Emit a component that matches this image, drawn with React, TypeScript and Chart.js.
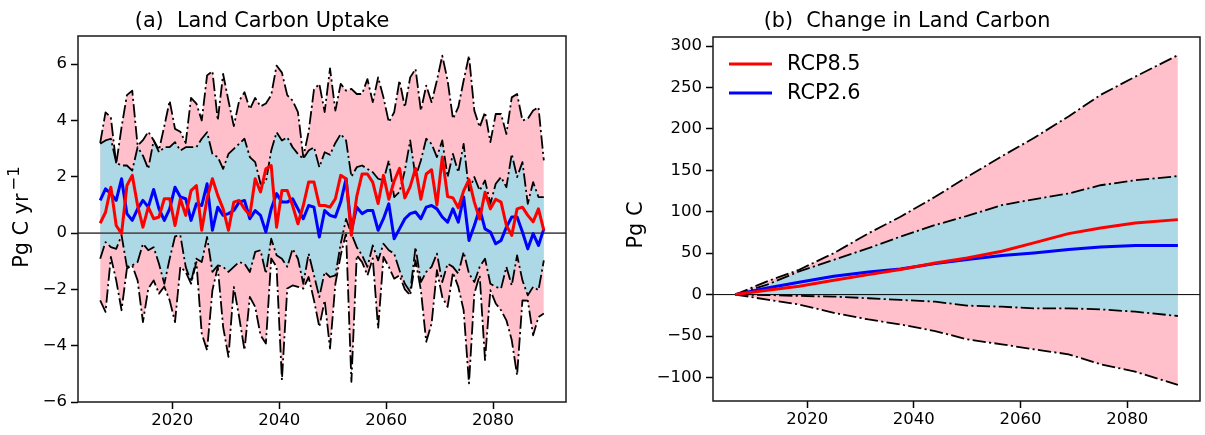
import React, { useEffect, useRef } from "react";
import { Chart, registerables } from "chart.js";

Chart.register(...registerables);

const FONT = "'DejaVu Sans', 'Liberation Sans', sans-serif";

// ---------- categories ----------
const years: number[] = Array.from({ length: 84 }, (_, i) => 2006 + i);
const xTickValues = [2020, 2040, 2060, 2080];
const leftYTicks = [-6, -4, -2, 0, 2, 4, 6];
const rightYTicks = [-100, -50, 0, 50, 100, 150, 200, 250, 300];

// ---------- (a) annual land carbon uptake, Pg C / yr ----------
const rcp85Mean = [
  0.35, 0.74, 1.63, 0.27, -0.02, 1.69, 2.05, 0.98, 0.21, 0.92,
  0.51, 0.57, 1.22, 1.22, 0.27, 1.22, 0.63, 1.51, 1.69, 0.1,
  1.22, 1.93, 1.34, 0.86, 0.1, 1.1, 1.16, 0.86, 0.63, 1.93,
  1.46, 2.28, 2.4, 0.21, 1.51, 1.51, 0.98, 0.33, 0.98, 1.81,
  1.81, 0.98, 0.98, 0.92, 1.22, 2.05, 1.93, -0.08, 1.3, 2.1,
  2.1, 1.8, 1.05, 2.05, 1.2, 1.85, 2.3, 1.25, 1.65, 2.3,
  1.2, 2.1, 2.25, 1.0, 2.7, 1.3, 1.25, 0.9, 1.5, 1.9,
  1.1, 0.5, 1.45, 0.86, 1.2, 1.1, 0.27, -0.08, 0.86, 0.92,
  0.63, 0.4, 0.86, 0.1,
];
const rcp26Mean = [
  1.16, 1.57, 1.4, 1.16, 1.93, 0.69, 0.45, 0.86, 1.16, 0.92,
  1.55, 0.86, 0.45, 0.86, 1.63, 1.28, 1.22, 0.45, 1.04, 0.98,
  1.75, 0.1, 0.92, 0.63, 0.69, 0.8, 1.1, 1.16, 0.51, 0.8,
  0.63, 0.04, 0.86, 1.4, 1.1, 1.1, 1.22, 0.86, 0.51, 0.98,
  0.92, -0.14, 0.8, 0.63, 0.57, 1.1, 1.93, 0.1, 0.92, 0.69,
  0.8, 0.8, 0.1, 0.51, 1.04, -0.2, 0.15, 0.51, 0.69, 0.75,
  0.51, 0.92, 0.98, 0.86, 0.57, 0.39, 0.86, 0.39, 1.28, -0.26,
  0.27, 0.86, 0.15, 0.04, -0.38, -0.26, 0.21, 0.57, 0.57, 0.04,
  -0.56, -0.02, -0.44, 0.15,
];
const rcp85Upper = [
  3.2, 4.29, 4.11, 2.45, 3.76, 4.9, 5.06, 3.1, 3.3, 3.6,
  3.3, 2.95, 3.8, 4.7, 3.7, 3.6, 3.2, 4.8, 4.6, 4.0,
  5.6, 5.75, 4.0, 5.65, 4.7, 3.8, 4.7, 5.0, 4.4, 4.8,
  4.5, 4.6, 4.9, 5.95, 5.7, 4.9, 4.7, 4.3, 2.7, 3.6,
  5.1, 5.3, 4.3, 5.85, 4.35, 5.3, 5.06, 5.12, 4.94, 4.94,
  5.47, 4.65, 5.53, 4.82, 3.94, 4.29, 5.42, 4.47, 5.53, 5.83,
  4.35, 5.24, 4.65, 5.42, 6.3, 5.42, 4.06, 4.47, 5.42, 6.3,
  4.35, 3.76, 4.29, 3.23, 4.23, 4.23, 3.52, 4.82, 4.94, 4.0,
  4.06, 4.35, 4.47, 2.58,
];
const rcp26Upper = [
  3.17, 3.29, 3.35, 2.5, 2.4, 2.4, 2.22, 3.05, 2.75, 2.28,
  3.29, 2.87, 3.05, 3.05, 3.23, 2.93, 3.05, 3.05, 3.05, 3.35,
  3.58, 2.81, 2.7, 2.28, 2.81, 2.99, 3.17, 3.35, 2.7, 2.52,
  1.75, 1.81, 2.93, 3.58, 3.29, 3.4, 3.05, 2.81, 2.64, 2.93,
  3.05, 2.34, 2.87, 2.78, 3.2, 3.52, 3.29, 2.0, 2.34, 2.4,
  2.28, 2.16, 1.93, 1.87, 2.58, 1.28, 1.46, 2.22, 3.29, 1.99,
  2.58, 3.35, 3.17, 2.7, 3.29, 1.99, 2.81, 2.16, 3.17, 1.51,
  1.99, 1.51, 1.87, 1.04, 1.75, 1.99, 1.63, 2.81, 1.99, 2.52,
  1.04, 1.81, 1.28, 1.28,
];
const rcp26Lower = [
  -0.91, -0.32, -0.5, -0.56, -0.08, -1.2, -1.15, -1.03, -0.38, -0.61,
  -0.5, -1.09, -1.8, -0.91, -0.12, -0.08, -1.2, -1.74, -0.91, -1.03,
  -0.14, -1.38, -1.15, -1.2, -1.38, -1.2, -1.03, -1.09, -1.38, -0.67,
  -0.61, -1.44, -0.2, -0.79, -0.91, -1.2, -0.56, -0.91, -1.8, -0.73,
  -1.5, -2.27, -1.38, -1.56, -1.5, -0.38, 0.5, -0.02, -0.5, -0.79,
  -1.2, -0.44, -0.97, -0.38, -0.61, -0.73, -1.32, -1.8, -2.09, -0.5,
  -1.74, -1.38, -1.2, -0.73, -1.74, -1.09, -1.2, -1.44, -0.67, -1.44,
  -1.74, -1.2, -0.91, -1.8, -1.91, -1.97, -1.2, -1.86, -0.79, -1.68,
  -2.21, -1.91, -2.03, -0.97,
];
const rcp85Lower = [
  -2.39, -2.8, -0.85, -1.68, -2.74, -1.26, -1.15, -1.68, -3.16, -1.97,
  -1.68, -2.15, -1.9, -2.39, -3.16, -1.2, -1.38, -1.8, -1.03, -3.57,
  -4.16, -2.03, -1.2, -3.33, -4.4, -1.91, -2.98, -4.16, -2.27, -2.62,
  -3.63, -3.92, -0.9, -1.2, -5.22, -1.97, -1.86, -1.91, -1.97, -1.56,
  -2.39, -3.33, -2.39, -4.1, -1.8, -0.79, 0.0, -5.28, -0.79, -1.03,
  -1.5, -0.9, -3.39, -0.85, -1.2, -1.62, -1.5, -2.0, -2.21, -0.97,
  -2.03, -3.86, -3.22, -1.32, -2.27, -2.62, -1.4, -1.91, -2.74, -5.34,
  -2.15, -1.5, -4.51, -2.03, -2.5, -2.74, -3.1, -3.8, -5.05, -2.39,
  -2.4, -3.63, -2.98, -2.86,
];

// ---------- (b) cumulative change in land carbon, Pg C ----------
const cumYears = [2006, 2012, 2018, 2024.5, 2031, 2037, 2043.5, 2049.5, 2056, 2062, 2068.5, 2074.5, 2081, 2089];
const cum85Mean = [0, 5.2, 10, 17.3, 24.1, 30.2, 38.2, 44.3, 52.3, 62.4, 73.6, 80.5, 86.5, 90.5];
const cum26Mean = [0, 8, 14.9, 22.1, 27.4, 31, 37.4, 42.3, 47.1, 50.3, 54.4, 57.6, 59.2, 59.2];
const cum85Upper = [0, 16, 30, 50, 74, 94, 118, 142, 167, 189, 215, 241, 263, 289];
const cum26Upper = [0, 12, 28, 42, 56, 70, 84, 95, 108, 115, 122, 132, 138, 143];
const cum26Lower = [0, -0.5, -1.6, -2.4, -4.4, -6.4, -8.5, -13.3, -14.6, -16.6, -16.6, -17.8, -20.6, -25.8];
const cum85Lower = [0, -6, -12, -22, -30, -36, -44, -54, -60, -66, -72, -84, -93, -109];

// ---------- styling ----------
const HALF_YEAR = 0.5; // annual values plotted mid-year
const X_MIN = 2002.35;
const X_MAX = 2093.65;
const PINK = "#ffc0cb";
const LIGHTBLUE = "#add8e6";
const DASHDOT = [13.3, 3.3, 2.1, 3.3];

function pts(xs: number[], ys: number[]) {
  return ys.map((y, i) => ({ x: xs[i] + HALF_YEAR, y }));
}

function lineDs(data: any[], color: string, width: number, order: number, dash: number[] = []) {
  return {
    data,
    borderColor: color,
    borderWidth: width,
    borderDash: dash,
    backgroundColor: color,
    pointRadius: 0,
    pointHoverRadius: 0,
    fill: false,
    tension: 0,
    order,
    borderCapStyle: "butt",
    borderJoinStyle: "round",
  };
}

function fillDs(data: any[], color: string, target: number | null, order: number) {
  return {
    data,
    borderColor: "rgba(0,0,0,0)",
    borderWidth: 0,
    backgroundColor: color,
    pointRadius: 0,
    pointHoverRadius: 0,
    fill: target === null ? false : { target, above: color, below: color },
    tension: 0,
    order,
  };
}

function buildDatasets(
  xs: number[],
  m85: number[],
  m26: number[],
  u85: number[],
  u26: number[],
  l26: number[],
  l85: number[],
  zeroColor: string,
  zeroWidth: number
) {
  const zero = [
    { x: X_MIN, y: 0 },
    { x: X_MAX, y: 0 },
  ];
  return [
    lineDs(pts(xs, m85), "#ff0000", 3, 0), // 0
    lineDs(pts(xs, m26), "#0000ff", 3, 1), // 1
    lineDs(zero, zeroColor, zeroWidth, 2), // 2
    lineDs(pts(xs, u85), "#000000", 1.8, 3, DASHDOT), // 3
    lineDs(pts(xs, u26), "#000000", 1.8, 4, DASHDOT), // 4
    lineDs(pts(xs, l26), "#000000", 1.8, 5, DASHDOT), // 5
    lineDs(pts(xs, l85), "#000000", 1.8, 6, DASHDOT), // 6
    fillDs(pts(xs, u26), LIGHTBLUE, 8, 7), // 7
    fillDs(pts(xs, l26), LIGHTBLUE, null, 8), // 8
    fillDs(pts(xs, u85), PINK, 10, 9), // 9
    fillDs(pts(xs, l85), PINK, null, 10), // 10
  ];
}

const minusFmt = (v: any) => (Number(v) < 0 ? "\u2212" + Math.abs(Number(v)) : String(v));

function scales(yMin: number, yMax: number, yTicks: number[], yWidth: number, xHeight: number) {
  const tickFont = { family: FONT, size: 16.5 };
  const grid = {
    display: true,
    drawOnChartArea: false,
    drawTicks: true,
    tickLength: 7,
    tickColor: "#000",
    tickWidth: 1.5,
  };
  return {
    x: {
      type: "linear",
      min: X_MIN,
      max: X_MAX,
      afterBuildTicks: (s: any) => {
        s.ticks = xTickValues.map((v) => ({ value: v }));
      },
      afterFit: (s: any) => {
        s.height = xHeight;
      },
      ticks: {
        callback: (v: any) => String(v),
        font: tickFont,
        color: "#000",
        padding: 2,
        maxRotation: 0,
        autoSkip: false,
      },
      grid,
      border: { display: false },
    },
    y: {
      type: "linear",
      min: yMin,
      max: yMax,
      afterBuildTicks: (s: any) => {
        s.ticks = yTicks.map((v) => ({ value: v }));
      },
      afterFit: (s: any) => {
        s.width = yWidth;
      },
      ticks: {
        callback: minusFmt,
        font: tickFont,
        color: "#000",
        padding: 4,
        autoSkip: false,
      },
      grid,
      border: { display: false },
    },
  };
}

type Decor = {
  title: string;
  titleX: number;
  titleY: number;
  ylabel: string;
  ylabelSup?: string;
  ylabelX: number;
  ylabelY: number;
  legend?: { x: number; y: number; label: string; color: string }[];
};

function decorPlugin(d: Decor) {
  return {
    id: "decor",
    afterDraw(chart: any) {
      const { ctx, chartArea: a } = chart;
      ctx.save();
      // frame
      ctx.strokeStyle = "#1a1a1a";
      ctx.lineWidth = 1.5;
      ctx.setLineDash([]);
      ctx.strokeRect(a.left, a.top, a.right - a.left, a.bottom - a.top);
      // title
      ctx.fillStyle = "#000";
      ctx.font = `20.8px ${FONT}`;
      ctx.textAlign = "center";
      ctx.textBaseline = "alphabetic";
      ctx.fillText(d.title, d.titleX, d.titleY);
      // y label (rotated)
      ctx.save();
      ctx.translate(d.ylabelX, d.ylabelY);
      ctx.rotate(-Math.PI / 2);
      ctx.font = `20.8px ${FONT}`;
      const wMain = ctx.measureText(d.ylabel).width;
      let wSup = 0;
      if (d.ylabelSup) {
        ctx.font = `16.5px ${FONT}`;
        wSup = ctx.measureText(d.ylabelSup).width + 3;
      }
      const start = -(wMain + wSup) / 2;
      ctx.textAlign = "left";
      ctx.font = `20.8px ${FONT}`;
      ctx.fillText(d.ylabel, start, 6);
      if (d.ylabelSup) {
        ctx.font = `16.5px ${FONT}`;
        ctx.fillText(d.ylabelSup, start + wMain + 3, -3.5);
      }
      ctx.restore();
      // legend
      if (d.legend) {
        ctx.font = `20.8px ${FONT}`;
        ctx.textAlign = "left";
        ctx.textBaseline = "middle";
        for (const item of d.legend) {
          ctx.strokeStyle = item.color;
          ctx.lineWidth = 3;
          ctx.beginPath();
          ctx.moveTo(item.x, item.y);
          ctx.lineTo(item.x + 43, item.y);
          ctx.stroke();
          ctx.fillStyle = "#000";
          ctx.fillText(item.label, item.x + 58, item.y + 1);
        }
      }
      ctx.restore();
    },
  };
}

function baseOptions(padding: any, sc: any) {
  return {
    responsive: false,
    maintainAspectRatio: false,
    animation: false,
    devicePixelRatio: 1,
    events: [],
    layout: { padding },
    plugins: {
      legend: { display: false },
      tooltip: { enabled: false },
      title: { display: false },
      filler: { propagate: false },
    },
    scales: sc,
  };
}

function leftConfig(): any {
  return {
    type: "line",
    data: {
      datasets: buildDatasets(years, rcp85Mean, rcp26Mean, rcp85Upper, rcp26Upper, rcp26Lower, rcp85Lower, "#555555", 1.8),
    },
    options: baseOptions({ left: 0, top: 36, right: 34, bottom: 0 }, scales(-6, 7, leftYTicks, 78, 33)),
    plugins: [
      decorPlugin({
        title: "(a)  Land Carbon Uptake",
        titleX: 262,
        titleY: 27,
        ylabel: "Pg C yr",
        ylabelSup: "\u22121",
        ylabelX: 22,
        ylabelY: 217,
      }),
    ],
  };
}

function rightConfig(): any {
  return {
    type: "line",
    data: {
      datasets: buildDatasets(cumYears, cum85Mean, cum26Mean, cum85Upper, cum26Upper, cum26Lower, cum85Lower, "#000000", 1),
    },
    options: baseOptions({ left: 0, top: 37, right: 5, bottom: 0 }, scales(-128.4, 310.9, rightYTicks, 113, 34)),
    plugins: [
      decorPlugin({
        title: "(b)  Change in Land Carbon",
        titleX: 307,
        titleY: 27,
        ylabel: "Pg C",
        ylabelX: 36,
        ylabelY: 225,
        legend: [
          { x: 129, y: 64, label: "RCP8.5", color: "#ff0000" },
          { x: 129, y: 93, label: "RCP2.6", color: "#0000ff" },
        ],
      }),
    ],
  };
}

export default function App() {
  const leftRef = useRef<HTMLCanvasElement>(null);
  const rightRef = useRef<HTMLCanvasElement>(null);

  useEffect(() => {
    const c1 = new Chart(leftRef.current as HTMLCanvasElement, leftConfig());
    const c2 = new Chart(rightRef.current as HTMLCanvasElement, rightConfig());
    return () => {
      c1.destroy();
      c2.destroy();
    };
  }, []);

  return (
    <div style={{ position: "absolute", left: 0, top: 0, width: 1205, height: 435, background: "#fff" }}>
      <canvas
        ref={leftRef}
        width={600}
        height={435}
        style={{ position: "absolute", left: 0, top: 0, width: 600, height: 435 }}
      />
      <canvas
        ref={rightRef}
        width={605}
        height={435}
        style={{ position: "absolute", left: 600, top: 0, width: 605, height: 435 }}
      />
    </div>
  );
}
